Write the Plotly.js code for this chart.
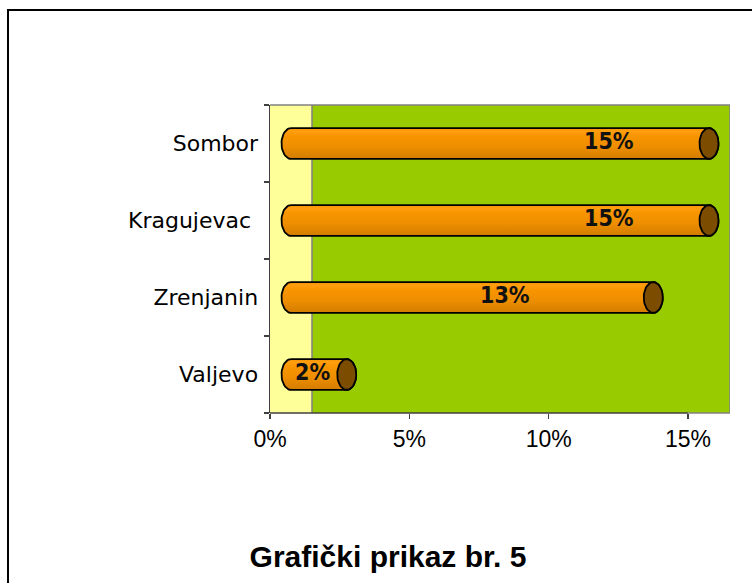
<!DOCTYPE html>
<html>
<head>
<meta charset="utf-8">
<script src="https://cdn.plot.ly/plotly-3.0.1.min.js"></script>
<style>
  html, body { margin: 0; padding: 0; background: #fff; overflow: hidden; }
  #wrap { position: relative; width: 752px; height: 583px; }
  #chart { position: absolute; left: 0; top: 0; width: 752px; height: 583px; }
  #frame { position: absolute; left: 7px; top: 9px; width: 900px; height: 800px;
           border-top: 2px solid #000; border-left: 2px solid #000; pointer-events: none; }
</style>
</head>
<body>
<div id="wrap">
  <div id="chart"></div>
  <div id="frame"></div>
</div>
<script>
// ---- data (bottom to top) ----
const categories = ['Valjevo', 'Zrenjanin', 'Kragujevac&nbsp;', 'Sombor'];
const values = [0.02, 0.13, 0.15, 0.15];
const tickVals = [0, 0.05, 0.10, 0.15];
const tickLabels = ['0%', '5%', '10%', '15%'];
const titleText = 'Grafički prikaz br. 5';

// ---- style / geometry ----
const axisMax = 0.15;                 // last labelled tick
const plotPx = 460, axisPx = 418;     // plot width vs. width up to last tick
const xMax = axisMax * plotPx / axisPx;
const pxToX = axisMax / axisPx;
const wallDepth = 42 * pxToX;         // yellow side wall
const barShift = wallDepth / 2;       // bars sit in the middle of the depth
const rx = 9.5 * pxToX;               // ellipse half width (data units)
const ry = 0.2;                       // half bar thickness (category units)
const labelFrac = [0.38, 0.59, 0.76, 0.76];

function ellipsePts(cx, cy, a0, a1, n) {
  const xs = [], ys = [];
  for (let k = 0; k <= n; k++) {
    const t = a0 + (a1 - a0) * k / n;
    xs.push(cx + rx * Math.cos(t));
    ys.push(cy + ry * Math.sin(t));
  }
  return [xs, ys];
}

const traces = [];
const annotations = [];
values.forEach((v, i) => {
  const x0 = barShift, x1 = barShift + v;
  const [lx, ly] = ellipsePts(x0, i, Math.PI / 2, 3 * Math.PI / 2, 24);
  const [rxs, rys] = ellipsePts(x1, i, -Math.PI / 2, Math.PI / 2, 24);
  traces.push({
    type: 'scatter', mode: 'lines',
    x: lx.concat(rxs, [lx[0]]), y: ly.concat(rys, [ly[0]]),
    fill: 'toself',
    fillgradient: { type: 'vertical',
      colorscale: [[0, '#D27C00'], [0.4, '#EE8E00'], [0.75, '#F89500'], [0.9, '#FF9E10'], [1, '#F59400']] },
    line: { color: '#000', width: 1.8 },
    hoverinfo: 'skip', showlegend: false
  });
  const [cx, cy] = ellipsePts(x1, i, 0, 2 * Math.PI, 48);
  traces.push({
    type: 'scatter', mode: 'lines', x: cx, y: cy,
    fill: 'toself', fillcolor: '#7C4C00',
    line: { color: '#000', width: 1.8 },
    hoverinfo: 'skip', showlegend: false
  });
  annotations.push({
    x: x0 + v * labelFrac[i], y: i, xref: 'x', yref: 'y',
    text: Math.round(v * 100) + '%', showarrow: false, yshift: 3,
    font: { family: 'DejaVu Sans Condensed, DejaVu Sans', size: 23, color: '#111', weight: 'bold' }
  });
});

const shapes = [
  { type: 'rect', xref: 'x', yref: 'paper', x0: 0, x1: wallDepth, y0: 0, y1: 1,
    fillcolor: '#FFFF99', line: { width: 0 }, layer: 'below' },
  { type: 'rect', xref: 'x', yref: 'paper', x0: wallDepth, x1: xMax, y0: 0, y1: 1,
    fillcolor: '#99CC00', line: { width: 0 }, layer: 'below' },
  { type: 'line', xref: 'x', yref: 'paper', x0: wallDepth, x1: wallDepth, y0: 0, y1: 1,
    line: { color: '#808080', width: 1.5 }, layer: 'below' },
  { type: 'line', xref: 'x', yref: 'paper', x0: 0, x1: xMax, y0: 1, y1: 1,
    line: { color: '#808080', width: 1.5 } },
  { type: 'line', xref: 'x', yref: 'paper', x0: xMax, x1: xMax, y0: 0, y1: 1,
    line: { color: '#808080', width: 1.5 } },
  { type: 'line', xref: 'x', yref: 'paper', x0: axisMax, x1: xMax, y0: 0, y1: 0,
    line: { color: '#808080', width: 1.5 } },
  { type: 'line', xref: 'x', yref: 'paper', x0: 0, x1: axisMax, y0: 0, y1: 0,
    line: { color: '#404040', width: 1.5 } }
];

const layout = {
  width: 752, height: 583,
  margin: { l: 270, r: 22, t: 105, b: 170, pad: 0 },
  paper_bgcolor: '#fff', plot_bgcolor: 'rgba(0,0,0,0)',
  showlegend: false,
  title: { text: '<b>' + titleText + '</b>', x: 388 / 752, xanchor: 'center',
           xref: 'container', yref: 'container', y: 1 - 556 / 583, yanchor: 'middle',
           font: { family: 'Liberation Sans, Arial', size: 30, color: '#000' } },
  xaxis: {
    range: [0, xMax], showgrid: false, zeroline: false, showline: false,
    tickmode: 'array', tickvals: tickVals, ticktext: tickLabels,
    ticks: 'outside', ticklen: 5, tickcolor: '#404040', tickwidth: 1.5,
    tickfont: { family: 'Liberation Sans, Arial', size: 23, color: '#000' },
    fixedrange: true
  },
  yaxis: {
    range: [-0.5, 3.5], showgrid: false, zeroline: false,
    showline: true, linecolor: '#404040', linewidth: 1.5,
    tickmode: 'array', tickvals: [0, 1, 2, 3], ticktext: categories,
    ticks: '', ticklabelstandoff: 6,
    tickfont: { family: 'DejaVu Sans', size: 22, color: '#000' },
    minor: { tickmode: 'array', tickvals: [-0.5, 0.5, 1.5, 2.5, 3.5],
             ticks: 'outside', ticklen: 5, tickcolor: '#404040', tickwidth: 1.5, showgrid: false },
    fixedrange: true
  },
  shapes: shapes,
  annotations: annotations
};

Plotly.newPlot('chart', traces, layout, { displayModeBar: false, staticPlot: true });
</script>
</body>
</html>
